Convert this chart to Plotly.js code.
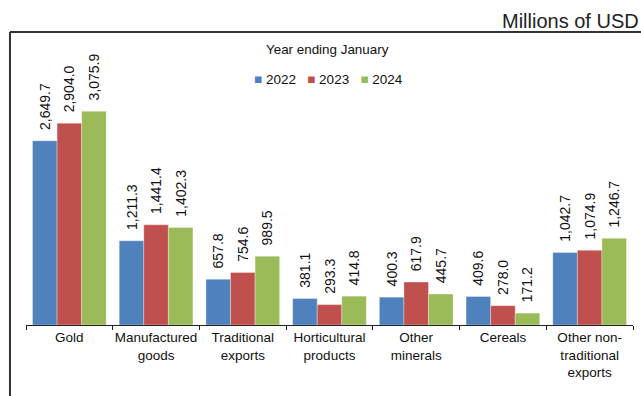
<!DOCTYPE html>
<html>
<head>
<meta charset="utf-8">
<script src="https://cdn.plot.ly/plotly-3.0.1.min.js"></script>
<style>
  html, body { margin: 0; padding: 0; background: #fff; }
  #chart { width: 641px; height: 396px; }
</style>
</head>
<body>
<div id="chart"></div>
<script>
const categories = ["Gold", "Manufactured<br>goods", "Traditional<br>exports", "Horticultural<br>products", "Other<br>minerals", "Cereals", "Other non-<br>traditional<br>exports"];
const seriesNames = ["2022", "2023", "2024"];
const values2022 = [2649.7, 1211.3, 657.8, 381.1, 400.3, 409.6, 1042.7];
const values2023 = [2904.0, 1441.4, 754.6, 293.3, 617.9, 278.0, 1074.9];
const values2024 = [3075.9, 1402.3, 989.5, 414.8, 445.7, 171.2, 1246.7];
const seriesColors = ["#4F81BD", "#C0504D", "#9BBB59"];
const unitLabel = "Millions of USD";
const legendTitle = "Year ending January";

const FONT = "Liberation Sans, Arial, Helvetica, sans-serif";
const allValues = [values2022, values2023, values2024];

const traces = allValues.map((vals, i) => ({
  type: "bar",
  name: seriesNames[i],
  x: categories,
  y: vals,
  marker: { color: seriesColors[i], line: { color: "rgba(255,255,255,0.55)", width: 0.6 } },
  texttemplate: "\u00a0\u00a0%{y:,.1f}",
  textposition: "outside",
  textangle: -90,
  constraintext: "none",
  cliponaxis: false,
  textfont: { family: FONT, size: 14, color: "#111" },
  hoverinfo: "x+y",
  showlegend: false
}));

// custom compact legend text built from the series names/colours
const legendText = seriesNames.map((n, i) =>
  `<span style="color:${seriesColors[i]}">■</span> ${n}`).join("\u00a0\u00a0\u00a0");

const layout = {
  width: 641,
  height: 396,
  margin: { l: 26, r: 8, t: 40, b: 71 },
  paper_bgcolor: "#ffffff",
  plot_bgcolor: "#ffffff",
  font: { family: FONT, size: 13.5, color: "#111" },
  barmode: "group",
  bargap: 0.15,
  bargroupgap: 0,
  showlegend: false,
  xaxis: {
    type: "category",
    showline: true,
    linecolor: "#222",
    linewidth: 1,
    ticks: "outside",
    tickson: "boundaries",
    ticklen: 4,
    tickcolor: "#222",
    tickangle: 0,
    automargin: false,
    tickfont: { family: FONT, size: 13.5, color: "#111" },
    showgrid: false,
    zeroline: false,
    fixedrange: true
  },
  yaxis: {
    range: [0, 4100],
    visible: false,
    showgrid: false,
    zeroline: false,
    fixedrange: true
  },
  shapes: [
    { type: "line", xref: "paper", yref: "paper", x0: -0.0264, x1: -0.0264, y0: 1.0281, y1: -0.26,
      line: { color: "#333", width: 2 } },
    { type: "line", xref: "paper", yref: "paper", x0: -0.0264, x1: 1.02, y0: 1.0281, y1: 1.0281,
      line: { color: "#333", width: 2 } }
  ],
  annotations: [
    { text: unitLabel, xref: "paper", yref: "paper", x: 1.0132, y: 1.067, xanchor: "right", yanchor: "middle",
      showarrow: false, font: { family: FONT, size: 20, color: "#222" } },
    { text: legendTitle, xref: "paper", yref: "paper", x: 0.4962, y: 0.965, xanchor: "center", yanchor: "middle",
      showarrow: false, font: { family: FONT, size: 13.4, color: "#111" } },
    { text: legendText, xref: "paper", yref: "paper", x: 0.498, y: 0.863, xanchor: "center", yanchor: "middle",
      showarrow: false, font: { family: FONT, size: 13.5, color: "#111" } }
  ]
};

Plotly.newPlot("chart", traces, layout, { displayModeBar: false, staticPlot: true });
</script>
</body>
</html>
